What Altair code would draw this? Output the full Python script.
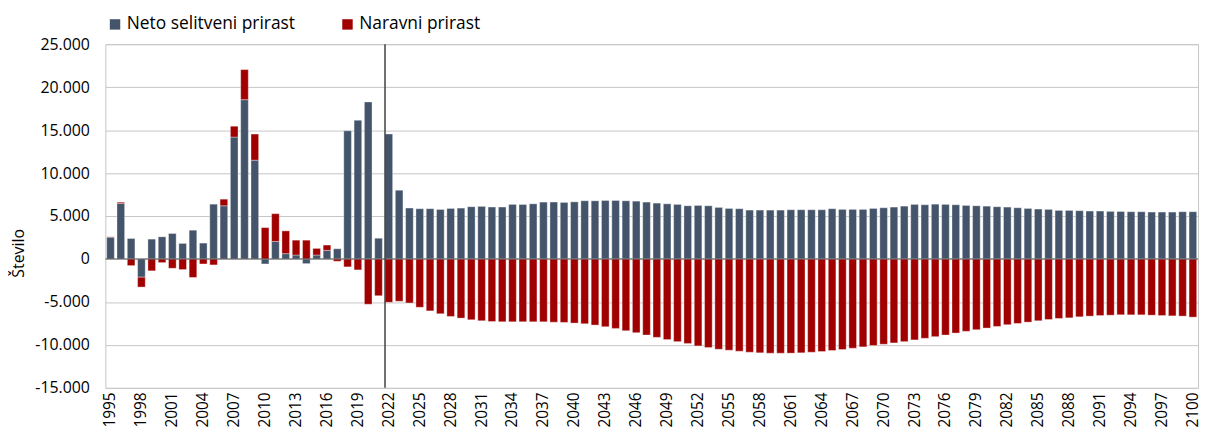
import altair as alt
import pandas as pd

years = list(range(1995, 2101))

neto = [
    2540, 6460, 2380, -2120, 2310, 2580, 2960, 1810, 3350, 1850,
    6380, 6190, 14190, 18540, 11500, -580, 2040, 620, 460, -540,
    460, 1000, 1190, 14920, 16150, 18270, 2420,
    14540, 8000, 5920, 5850, 5850, 5770, 5880, 5920, 6080, 6120,
    6040, 6040, 6350, 6350, 6420, 6620, 6620, 6580, 6650, 6770,
    6770, 6810, 6810, 6770, 6730, 6620, 6500, 6420, 6350, 6190,
    6230, 6190, 6000, 5880, 5850, 5690, 5690, 5690, 5690, 5730,
    5730, 5730, 5730, 5850, 5770, 5770, 5770, 5880, 5960, 6040,
    6150, 6350, 6310, 6380, 6350, 6310, 6230, 6190, 6150, 6080,
    6040, 5960, 5880, 5810, 5770, 5650, 5650, 5620, 5580, 5580,
    5540, 5540, 5500, 5500, 5460, 5460, 5460, 5500, 5500,
]

naravni = [
    40, 150, -770, -1150, -1380, -420, -1080, -1230, -2150, -580,
    -690, 770, 1270, 3500, 3040, 3650, 3230, 2650, 1730, 2190,
    770, 620, -270, -920, -1270, -5270, -4270,
    -5040, -4920, -5120, -5620, -6040, -6380, -6690, -6880, -7080, -7190,
    -7270, -7310, -7310, -7310, -7310, -7310, -7350, -7380, -7460, -7540,
    -7690, -7880, -8080, -8350, -8580, -8850, -9120, -9380, -9620, -9850,
    -10120, -10310, -10500, -10620, -10730, -10850, -10920, -10960, -10960, -10960,
    -10920, -10850, -10770, -10650, -10540, -10380, -10230, -10080, -9920, -9770,
    -9620, -9420, -9230, -9040, -8850, -8620, -8420, -8230, -8040, -7850,
    -7650, -7500, -7350, -7190, -7040, -6920, -6850, -6730, -6650, -6580,
    -6540, -6500, -6500, -6500, -6540, -6580, -6620, -6650, -6770,
]

series_names = ["Neto selitveni prirast", "Naravni prirast"]
series_colors = ["#44546A", "#A00000"]
y_ticks = [-15000, -10000, -5000, 0, 5000, 10000, 15000, 20000, 25000]
x_label_years = years[::3]
marker_year = 2022

rows = []
for y, a, b in zip(years, neto, naravni):
    rows.append({"leto": y, "serija": series_names[0], "vrednost": a, "ord": 0})
    rows.append({"leto": y, "serija": series_names[1], "vrednost": b, "ord": 1})
df = pd.DataFrame(rows)

FONT = "Open Sans"

xscale = alt.Scale(paddingInner=0.26, paddingOuter=0.13)

bars = alt.Chart(df).mark_bar(stroke="white", strokeWidth=0.5, strokeOpacity=0.7).encode(
    x=alt.X(
        "leto:O",
        scale=xscale,
        axis=alt.Axis(
            values=x_label_years,
            labelAngle=270,
            title=None,
            ticks=False,
            domain=False,
            labelPadding=4,
            grid=False,
            labelFontSize=15.5,
        ),
    ),
    y=alt.Y(
        "vrednost:Q",
        stack="zero",
        scale=alt.Scale(domain=[-15000, 25000], nice=False),
        axis=alt.Axis(
            values=y_ticks,
            title="Število",
            ticks=False,
            domain=False,
            labelPadding=16,
            labelExpr="(datum.value < 0 ? '-' : '') + replace(format(abs(datum.value), ','), ',', '.')",
            titleX=-79,
            titleY=210,
            titleFontWeight="normal",
            titleFontSize=16,
            gridColor="#c6c6c6",
            gridWidth=1,
        ),
    ),
    color=alt.Color(
        "serija:N",
        scale=alt.Scale(domain=series_names, range=series_colors),
        legend=alt.Legend(
            title=None,
            orient="none",
            direction="horizontal",
            legendX=1,
            legendY=-29,
            symbolType="square",
            symbolSize=110,
            symbolStrokeWidth=0,
            labelFontSize=17.5,
            labelFont=FONT,
            labelColor="#000000",
            labelLimit=400,
            columnPadding=43,
            labelOffset=3,
        ),
    ),
    order=alt.Order("ord:Q"),
)

zero = alt.Chart(pd.DataFrame({"z": [0]})).mark_rule(color="#595959", strokeWidth=1).encode(
    y=alt.Y("z:Q")
)

vline_df = pd.DataFrame({"leto": [marker_year]})
vline = alt.Chart(vline_df).mark_rule(color="#404040", strokeWidth=1.5).encode(
    x=alt.X("leto:O", bandPosition=0, scale=xscale),
)

chart = (
    alt.layer(bars, zero, vline)
    .properties(
        width=1100,
        height=346,
        autosize=alt.AutoSizeParams(type="none"),
        padding={"left": 98, "top": 35, "right": 5, "bottom": 40},
    )
    .configure_axis(
        labelFont=FONT,
        titleFont=FONT,
        labelFontSize=16,
        labelColor="#000000",
        titleColor="#000000",
    )
    .configure_view(stroke="#c6c6c6", strokeWidth=1)
)

chart.save("out.html", embed_options={"renderer": "svg", "actions": False})
